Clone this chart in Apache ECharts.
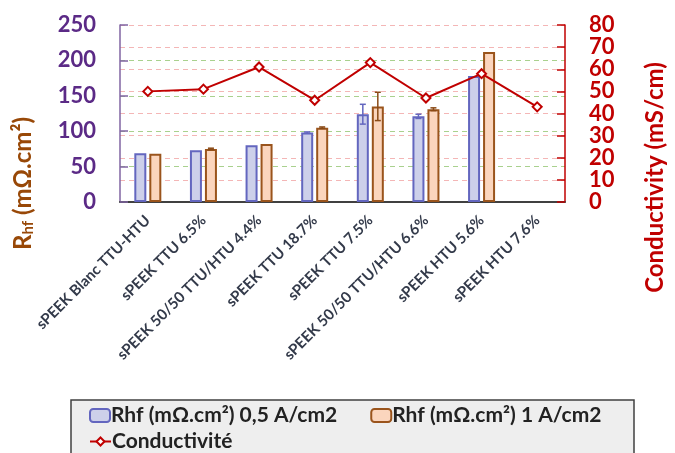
<!DOCTYPE html>
<html>
<head>
<meta charset="utf-8">
<script src="https://cdn.jsdelivr.net/npm/echarts@6/dist/echarts.min.js"></script>
<style>
  html, body { margin: 0; padding: 0; background: #ffffff; }
  #chart { width: 675px; height: 453px; }
</style>
</head>
<body>
<div id="chart"></div>
<script>
// Membranes tested
const categories = [
  'sPEEK Blanc TTU-HTU',
  'sPEEK TTU 6.5%',
  'sPEEK 50/50 TTU/HTU 4.4%',
  'sPEEK TTU 18.7%',
  'sPEEK TTU 7.5%',
  'sPEEK 50/50 TTU/HTU 6.6%',
  'sPEEK HTU 5.6%',
  'sPEEK HTU 7.6%'
];

// High-frequency resistance (mΩ.cm²) at 0.5 and 1 A/cm2
const rhfLow  = [69, 73, 80, 98, 124, 121, 178, null];
const rhfHigh = [68, 75, 82, 105, 135, 131, 212, null];

// Standard deviations on the resistance measurements
const rhfLowErr  = [0, 0, 0, 1, 14, 3, 0, 0];
const rhfHighErr = [0, 1, 0, 1, 20, 2, 0, 0];

// Proton conductivity (mS/cm)
const conductivity = [50, 51, 61, 46, 63, 47, 58, 43];

// Axis ticks
const leftTicks  = { min: 0, max: 250, interval: 50 };
const rightTicks = { min: 0, max: 80, interval: 10 };

const nameLow  = 'Rhf (mΩ.cm²) 0,5 A/cm2';
const nameHigh = 'Rhf (mΩ.cm²) 1 A/cm2';
const nameCond = 'Conductivité';

const FONT = 'Lato';
const BAR_W = 12;
const BAR_SHIFT = 7.5; // half of bar width + gap between the two bars

function errorBars(values, errs) {
  return values.map((v, i) => [i, v == null ? 0 : v, errs[i]]);
}

function errRenderer(offset, color) {
  return function (params, api) {
    const i = api.value(0), v = api.value(1), e = api.value(2);
    if (!e) return null;
    const hi = api.coord([i, v + e]);
    const lo = api.coord([i, v - e]);
    const x = hi[0] + offset;
    const cap = 3;
    const st = { stroke: color, lineWidth: 1.5 };
    return {
      type: 'group',
      children: [
        { type: 'line', shape: { x1: x, y1: hi[1], x2: x, y2: lo[1] }, style: st },
        { type: 'line', shape: { x1: x - cap, y1: hi[1], x2: x + cap, y2: hi[1] }, style: st },
        { type: 'line', shape: { x1: x - cap, y1: lo[1], x2: x + cap, y2: lo[1] }, style: st }
      ]
    };
  };
}

const legendText = {
  fontFamily: FONT, fontSize: 21, fontWeight: 'bold', color: '#222222',
  padding: [0, 0, 0, -4]
};

const chart = echarts.init(document.getElementById('chart'), null, { renderer: 'canvas' });

chart.setOption({
  backgroundColor: '#ffffff',
  animation: false,
  textStyle: { fontFamily: FONT },
  grid: { left: 120, right: 100, top: 25, bottom: 251, containLabel: false },
  graphic: [{
    type: 'rect',
    z: -10,
    shape: { x: 71, y: 400, width: 563, height: 64 },
    style: { fill: '#eeeeee', stroke: '#404040', lineWidth: 1.5 }
  }],
  legend: [
    {
      data: [nameLow, nameHigh],
      left: 89, top: 405, padding: 0,
      itemWidth: 20, itemHeight: 13, itemGap: 33,
      textStyle: legendText
    },
    {
      data: [nameCond],
      left: 89, top: 431, padding: 0,
      itemWidth: 21, itemHeight: 10,
      textStyle: legendText
    }
  ],
  xAxis: {
    type: 'category',
    data: categories,
    axisLine: { lineStyle: { color: '#404040', width: 2 } },
    axisTick: { show: false },
    axisLabel: {
      interval: 0,
      rotate: 45,
      margin: 16,
      fontFamily: FONT,
      fontSize: 15,
      fontWeight: 'bold',
      color: '#333a4a'
    }
  },
  yAxis: [
    {
      type: 'value',
      min: leftTicks.min, max: leftTicks.max, interval: leftTicks.interval,
      position: 'left',
      name: '{b|R}{s|hf}{b| (mΩ.cm²)}',
      nameLocation: 'middle',
      nameRotate: 90,
      nameGap: 84,
      nameTextStyle: {
        padding: [0, 140, 0, 0],
        rich: {
          b: { fontFamily: FONT, fontSize: 24, fontWeight: 'bold', color: '#984807' },
          s: { fontFamily: FONT, fontSize: 15, fontWeight: 'bold', color: '#984807', verticalAlign: 'bottom', padding: [11, 0, 0, 0] }
        }
      },
      axisLine: { show: true, lineStyle: { color: '#8064a2', width: 1.5 } },
      axisTick: { show: true, inside: true, length: 8, lineStyle: { color: '#8064a2', width: 1.5 } },
      axisLabel: { margin: 24, fontFamily: FONT, fontSize: 22, fontWeight: 'bold', color: '#5b2a86' },
      splitLine: { show: true, lineStyle: { color: '#a9d18e', type: [5, 4], width: 1 } }
    },
    {
      type: 'value',
      min: rightTicks.min, max: rightTicks.max, interval: rightTicks.interval,
      position: 'right',
      name: 'Conductivity (mS/cm)',
      nameLocation: 'middle',
      nameRotate: 90,
      nameGap: 78,
      nameTextStyle: {
        padding: [0, 128, 0, 0],
        fontFamily: FONT, fontSize: 24, fontWeight: 'bold', color: '#c00000'
      },
      axisLine: { show: true, lineStyle: { color: '#c00000', width: 1.5 } },
      axisTick: { show: true, inside: true, length: 8, lineStyle: { color: '#c00000', width: 1.5 } },
      axisLabel: { margin: 24, fontFamily: FONT, fontSize: 22, fontWeight: 'bold', color: '#c00000' },
      splitLine: { show: true, lineStyle: { color: '#f4b6b6', type: [5, 4], width: 1 } }
    }
  ],
  series: [
    {
      name: nameLow,
      type: 'bar',
      yAxisIndex: 0,
      data: rhfLow,
      barWidth: BAR_W,
      barGap: '25%',
      itemStyle: { color: '#cdd0ea', borderColor: '#6366bf', borderWidth: 2 },
      z: 2
    },
    {
      name: nameHigh,
      type: 'bar',
      yAxisIndex: 0,
      data: rhfHigh,
      barWidth: BAR_W,
      barGap: '25%',
      itemStyle: { color: '#fbd5bd', borderColor: '#9a541c', borderWidth: 2 },
      z: 2
    },
    {
      name: 'errLow',
      type: 'custom',
      yAxisIndex: 0,
      data: errorBars(rhfLow, rhfLowErr),
      encode: { x: 0, y: 1 },
      renderItem: errRenderer(-BAR_SHIFT, '#6366bf'),
      z: 3,
      silent: true
    },
    {
      name: 'errHigh',
      type: 'custom',
      yAxisIndex: 0,
      data: errorBars(rhfHigh, rhfHighErr),
      encode: { x: 0, y: 1 },
      renderItem: errRenderer(BAR_SHIFT, '#8a4a16'),
      z: 3,
      silent: true
    },
    {
      name: nameCond,
      type: 'line',
      yAxisIndex: 1,
      data: conductivity,
      symbol: 'emptyDiamond',
      symbolSize: 9,
      lineStyle: { color: '#c00000', width: 2 },
      itemStyle: { color: '#c00000', borderColor: '#c00000', borderWidth: 1.5 },
      z: 5
    }
  ]
});
</script>
</body>
</html>
